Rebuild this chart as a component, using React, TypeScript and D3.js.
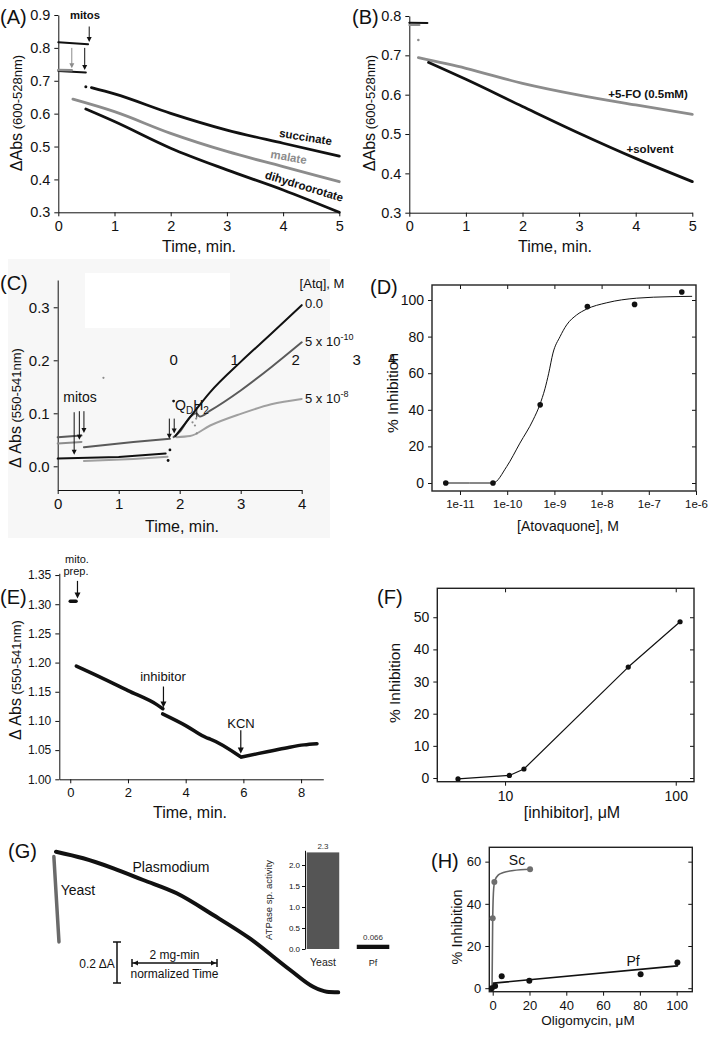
import React, { useEffect, useRef } from "react";
import * as d3 from "d3";

const FONT = "'Liberation Sans', Arial, Helvetica, sans-serif";
const NARROW = "'Liberation Sans Narrow', 'Arial Narrow', 'Liberation Sans', sans-serif";
const INK = "#111";
const GREY = "#8c8c8c";
const DARK_GREY = "#5a5a5a";

type Pt = [number, number];

// (A) ΔAbs 600-528nm vs time, three substrates
const succinatePre: Pt[] = [[0, 0.817], [0.53, 0.811]];
const succinateDot: Pt = [0.49, 0.682];
const succinateRun: Pt[] = [[0.59, 0.679], [1, 0.66], [2, 0.601], [3, 0.55], [4, 0.51], [5, 0.471]];
const malatePre: Pt[] = [[0, 0.733], [0.24, 0.732]];
const malateRun: Pt[] = [[0.26, 0.644], [1, 0.606], [2, 0.54], [3, 0.485], [4, 0.439], [5, 0.393]];
const dhoPre: Pt[] = [[0, 0.73], [0.49, 0.725]];
const dhoRun: Pt[] = [[0.49, 0.614], [1, 0.576], [2, 0.495], [3, 0.429], [4, 0.368], [5, 0.3]];
const aTicks = [0.3, 0.4, 0.5, 0.6, 0.7, 0.8, 0.9];

// (B) 5-FO vs solvent
const foPre: Pt[] = [[0, 0.777], [0.18, 0.777]];
const foDot: Pt = [0.16, 0.739];
const foRun: Pt[] = [[0.16, 0.694], [1, 0.667], [2, 0.629], [3, 0.599], [4, 0.574], [5, 0.55]];
const solvPre: Pt[] = [[0, 0.783], [0.32, 0.782]];
const solvRun: Pt[] = [[0.34, 0.682], [1, 0.639], [2, 0.57], [3, 0.502], [4, 0.438], [5, 0.379]];
const bTicks = [0.3, 0.4, 0.5, 0.6, 0.7, 0.8];
const time5 = [0, 1, 2, 3, 4, 5];

// (C) cyt c reduction with atovaquone
const c0Pre: Pt[] = [[0, 0.0145], [1, 0.0175], [1.77, 0.024]];
const c0Dots: Pt[] = [[1.81, 0.011], [1.84, 0.031], [1.9, 0.123]];
const c0Run: Pt[] = [[1.93, 0.057], [2.2, 0.097], [2.5, 0.14], [3, 0.197], [3.5, 0.25], [4, 0.304]];
const c10Pre: Pt[] = [[0, 0.055], [0.39, 0.058]];
const c10Mid: Pt[] = [[0.43, 0.036], [1.24, 0.046], [1.84, 0.052]];
const c10Run: Pt[] = [[1.9, 0.055], [2.0, 0.065], [2.17, 0.093], [2.27, 0.1], [2.33, 0.094], [2.5, 0.105], [3, 0.143], [3.5, 0.187], [4, 0.234]];
const c8Pre: Pt[] = [[0, 0.043], [0.39, 0.046]];
const c8Mid: Pt[] = [[0.43, 0.01], [1.24, 0.014], [1.8, 0.018]];
const c8Run: Pt[] = [[1.95, 0.055], [2.17, 0.057], [2.5, 0.077], [3, 0.099], [3.5, 0.117], [4, 0.127]];
const cStray: Pt[] = [[2.21, 0.083], [2.27, 0.09], [2.25, 0.077], [2.28, 0.062], [0.75, 0.167]];
const cTicks = [0, 0.1, 0.2, 0.3];
const time4 = [0, 1, 2, 3, 4];
const overlayDigits = ["0", "1", "2", "3"];

// (D) atovaquone dose response
const atqConc = [5e-12, 5e-11, 5e-10, 5e-9, 5e-8, 5e-7];
const atqInhib = [0, 0, 42.7, 96.4, 97.6, 104.4];
const atqFitLog = [-11.3, -10.3, -10.01, -9.73, -9.45, -9.31, -9.2, -9.12, -9.03, -8.88, -8.74, -8.53, -8.32, -7.89, -7.26, -6.55, -6.09];
const atqFitVal = [0, 0, 9, 21.8, 34.5, 42.7, 51.5, 60, 71, 80, 86.4, 91.8, 95, 98.5, 101, 101.8, 102];
const dXTicks = [1e-11, 1e-10, 1e-9, 1e-8, 1e-7, 1e-6];
const pctTicks = [0, 20, 40, 60, 80, 100];

// (E) inhibitor + KCN trace
const ePre: Pt[] = [[0, 1.305], [0.2, 1.305]];
const eRun1: Pt[] = [[0.21, 1.194], [1, 1.176], [2, 1.152], [3, 1.128], [3.21, 1.121]];
const eRun2: Pt[] = [[3.2, 1.112], [4, 1.092], [4.73, 1.071], [4.85, 1.069], [5.89, 1.039]];
const eRun3: Pt[] = [[5.93, 1.038], [6.5, 1.044], [7, 1.049], [7.6, 1.055], [8.1, 1.059], [8.55, 1.061]];
const eYTicks = [1.0, 1.05, 1.1, 1.15, 1.2, 1.25, 1.3, 1.35];
const eXTicks = [0, 2, 4, 6, 8];

// (F) inhibitor dose response
const inhConc = [5.3, 10.6, 12.9, 52.7, 106];
const inhVal = [-0.3, 0.8, 2.8, 34.5, 48.6];
const fYTicks = [0, 10, 20, 30, 40, 50];

// (G) ATPase traces (normalized time, ΔA)
const plasT = [0, 0.64, 1.35, 2.05, 2.84, 3.7, 4.56, 5.51, 6.05, 6.37, 6.64];
const plasA = [0, -0.032, -0.081, -0.138, -0.203, -0.309, -0.423, -0.577, -0.659, -0.683, -0.686];
const yeastT = [-0.05, 0.07];
const yeastA = [-0.024, -0.44];
const atpCats = ["Yeast", "Pf"];
const atpVals = [2.3, 0.066];
const atpTicks = [0, 0.5, 1, 1.5, 2];

// (H) oligomycin
const scX = [0, 0.9, 20.3];
const scY = [33.2, 50.4, 56.4];
const scFitX = [-0.36, 0, 0.54, 1.27, 3.1, 5.8, 11.2, 20.3];
const scFitY = [0, 33, 47.4, 51.3, 53.7, 54.8, 55.8, 56.4];
const pfX = [-0.5, 1.3, 4.9, 19.9, 80.4, 100.4];
const pfY = [0, 1.1, 5.7, 3.5, 6.6, 12.2];
const pfFitX = [0.4, 100.4];
const pfFitY = [2.4, 10.6];
const hXTicks = [0, 20, 40, 60, 80, 100];
const hYTicks = [0, 20, 40, 60];

type G = d3.Selection<SVGGElement, unknown, null, undefined>;
type Lin = d3.ScaleLinear<number, number> | d3.ScaleLogarithmic<number, number>;

function fontify(s: any, size: number, family = FONT) {
  s.attr("font-family", family).attr("font-size", size);
  s.selectAll("text").attr("fill", INK);
  s.selectAll("line,path").attr("stroke", INK);
}

function txt(g: G, x: number, y: number, s: string, o: any = {}) {
  const t = g.append("text")
    .attr("x", x).attr("y", y)
    .attr("font-family", o.family || FONT)
    .attr("font-size", o.size || 14)
    .attr("font-weight", o.weight || "normal")
    .attr("fill", o.fill || INK)
    .attr("text-anchor", o.anchor || "start")
    .text(s);
  if (o.rotate) t.attr("transform", `rotate(${o.rotate},${x},${y})`);
  return t;
}

function yLabel(g: G, x: number, y: number, big: string, small: string, bs = 16, ss = 13) {
  const t = g.append("text").attr("transform", `translate(${x},${y}) rotate(-90)`)
    .attr("text-anchor", "middle").attr("font-family", FONT).attr("fill", INK);
  t.append("tspan").attr("font-size", bs).text(big);
  if (small) t.append("tspan").attr("font-size", ss).text(" " + small);
}

function arrow(g: G, x: number, y1: number, y2: number, color = INK, w = 1, head = 5) {
  g.append("line").attr("x1", x).attr("x2", x).attr("y1", y1).attr("y2", y2 - head * 0.7)
    .attr("stroke", color).attr("stroke-width", w);
  g.append("path").attr("d", `M${x - head / 2},${y2 - head}L${x + head / 2},${y2 - head}L${x},${y2}Z`).attr("fill", color);
}

function trace(g: G, x: Lin, y: Lin, pts: Pt[], color: string, w: number, curve: any = d3.curveMonotoneX) {
  const ln = d3.line<Pt>().x((d) => x(d[0])).y((d) => y(d[1])).curve(curve);
  g.append("path").attr("d", ln(pts)).attr("fill", "none").attr("stroke", color)
    .attr("stroke-width", w).attr("stroke-linecap", "round").attr("stroke-linejoin", "round");
}

function dots(g: G, x: Lin, y: Lin, pts: Pt[], color: string, r: number) {
  g.selectAll(null).data(pts).enter().append("circle")
    .attr("cx", (d) => x(d[0])).attr("cy", (d) => y(d[1])).attr("r", r).attr("fill", color);
}

function openAxes(g: G, x: Lin, y: Lin, xt: number[], yt: number[], yFmt: string, fs: number, family = FONT, xfs = fs) {
  const [yb] = y.range();
  g.append("g").attr("transform", `translate(0,${yb})`)
    .call(d3.axisBottom(x as any).tickValues(xt).tickSize(4).tickSizeOuter(0).tickPadding(4).tickFormat(d3.format("d")) as any)
    .call((s: any) => fontify(s, xfs));
  const [xl] = x.range();
  g.append("g").attr("transform", `translate(${xl},0)`)
    .call(d3.axisLeft(y as any).tickValues(yt).tickSize(4).tickSizeOuter(0).tickPadding(4).tickFormat(d3.format(yFmt)) as any)
    .call((s: any) => fontify(s, fs, family));
}

function framedAxes(g: G, x: Lin, y: Lin, xt: number[], yt: number[], xFmt: any, fs: number, xfs: number, top: number[] | null) {
  const [x0, x1] = x.range();
  const [y0, y1] = y.range();
  g.append("g").attr("transform", `translate(0,${y0})`)
    .call(d3.axisBottom(x as any).tickValues(xt).tickSize(4).tickSizeOuter(0).tickPadding(5).tickFormat(xFmt) as any)
    .call((s: any) => { s.select(".domain").remove(); fontify(s, xfs); });
  g.append("g").attr("transform", `translate(${x0},0)`)
    .call(d3.axisLeft(y as any).tickValues(yt).tickSize(4).tickSizeOuter(0).tickPadding(4).tickFormat(d3.format("d")) as any)
    .call((s: any) => { s.select(".domain").remove(); fontify(s, fs); });
  g.append("g").attr("transform", `translate(${x1},0)`)
    .call(d3.axisLeft(y as any).tickValues(yt).tickSize(4).tickFormat(() => "") as any)
    .call((s: any) => { s.select(".domain").remove(); fontify(s, fs); });
  if (top) {
    g.append("g").attr("transform", `translate(0,${y1})`)
      .call(d3.axisBottom(x as any).tickValues(top).tickSize(4).tickFormat(() => "") as any)
      .call((s: any) => { s.select(".domain").remove(); fontify(s, fs); });
  }
  g.append("rect").attr("x", x0).attr("y", y1).attr("width", x1 - x0).attr("height", y0 - y1)
    .attr("fill", "none").attr("stroke", "#222").attr("stroke-width", 1.4);
}

function drawA(svg: any) {
  const g: G = svg.append("g");
  const x = d3.scaleLinear().domain([0, 5]).range([58.3, 339.3]);
  const y = d3.scaleLinear().domain([0.3, 0.9]).range([212.3, 15]);
  openAxes(g, x, y, time5, aTicks, ".1f", 14.5);
  trace(g, x, y, succinatePre, INK, 2);
  trace(g, x, y, dhoPre, INK, 2);
  trace(g, x, y, malatePre, GREY, 2.5);
  dots(g, x, y, [succinateDot], INK, 1.5);
  trace(g, x, y, succinateRun, INK, 2.8);
  trace(g, x, y, malateRun, GREY, 2.8);
  trace(g, x, y, dhoRun, INK, 2.8);
  arrow(g, x(0.55), y(0.865), y(0.818), INK, 1, 5);
  arrow(g, x(0.24), y(0.8), y(0.738), GREY, 1, 5);
  arrow(g, x(0.47), y(0.8), y(0.733), INK, 1, 5);
  txt(g, 85, 19, "mitos", { size: 11.3, weight: "bold", anchor: "middle" });
  txt(g, 305, 141, "succinate", { size: 11.5, weight: "bold", anchor: "middle", rotate: 9 });
  txt(g, 288, 161, "malate", { size: 11.5, weight: "bold", anchor: "middle", rotate: 10, fill: GREY });
  txt(g, 303, 190, "dihydroorotate", { size: 11.5, weight: "bold", anchor: "middle", rotate: 17 });
  txt(g, 199, 252, "Time, min.", { size: 16, anchor: "middle" });
  yLabel(g, 22, 113, "ΔAbs", "(600-528nm)");
  txt(g, 0, 24, "(A)", { size: 20 });
}

function drawB(svg: any) {
  const g: G = svg.append("g");
  const x = d3.scaleLinear().domain([0, 5]).range([409.3, 692.3]);
  const y = d3.scaleLinear().domain([0.3, 0.8]).range([212.7, 16]);
  openAxes(g, x, y, time5, bTicks, ".1f", 14.5);
  trace(g, x, y, solvPre, INK, 2);
  trace(g, x, y, foPre, GREY, 2);
  dots(g, x, y, [foDot], GREY, 1.3);
  trace(g, x, y, foRun, GREY, 2.8);
  trace(g, x, y, solvRun, INK, 2.8);
  txt(g, 648, 98, "+5-FO (0.5mM)", { size: 11.5, weight: "bold", anchor: "middle" });
  txt(g, 650, 153, "+solvent", { size: 11.5, weight: "bold", anchor: "middle" });
  txt(g, 555, 252, "Time, min.", { size: 16, anchor: "middle" });
  yLabel(g, 375, 113, "ΔAbs", "(600-528nm)");
  txt(g, 352, 24, "(B)", { size: 20 });
}

function drawC(svg: any) {
  const g: G = svg.append("g");
  g.append("rect").attr("x", 8).attr("y", 259).attr("width", 322).attr("height", 279).attr("fill", "#f7f7f7");
  g.append("rect").attr("x", 85).attr("y", 273).attr("width", 145).attr("height", 55).attr("fill", "#fff");
  const x = d3.scaleLinear().domain([0, 4]).range([57.7, 301.7]);
  const y = d3.scaleLinear().domain([-0.0447, 0.3515]).range([490, 280]);
  openAxes(g, x, y, time4, cTicks, ".1f", 15);
  const lw = 2;
  trace(g, x, y, c10Pre, DARK_GREY, lw, d3.curveLinear);
  trace(g, x, y, c8Pre, GREY, lw, d3.curveLinear);
  trace(g, x, y, c10Mid, DARK_GREY, lw, d3.curveLinear);
  trace(g, x, y, c8Mid, "#a0a0a0", lw, d3.curveLinear);
  trace(g, x, y, c0Pre, INK, lw, d3.curveLinear);
  trace(g, x, y, c8Run, "#a0a0a0", lw);
  trace(g, x, y, c10Run, DARK_GREY, lw);
  trace(g, x, y, c0Run, INK, lw);
  dots(g, x, y, c0Dots, INK, 1.4);
  dots(g, x, y, cStray, GREY, 1.1);
  arrow(g, x(0.27), y(0.102), y(0.022), INK, 1, 5);
  arrow(g, x(0.355), y(0.104), y(0.05), INK, 1, 5);
  arrow(g, x(0.43), y(0.104), y(0.063), INK, 1, 5);
  arrow(g, x(1.83), y(0.09), y(0.052), INK, 1, 5);
  arrow(g, x(1.91), y(0.09), y(0.062), INK, 1, 5);
  g.append("line").attr("x1", x(2.28)).attr("x2", x(2.28)).attr("y1", y(0.112)).attr("y2", y(0.092)).attr("stroke", INK);
  txt(g, 80, 402, "mitos", { size: 14, anchor: "middle" });
  const q = txt(g, 175, 410, "Q", { size: 14 });
  q.append("tspan").attr("font-size", 10).attr("dy", 4).text("D");
  q.append("tspan").attr("dy", -4).text("H");
  q.append("tspan").attr("font-size", 10).attr("dy", 4).text("2");
  txt(g, 322, 288, "[Atq], M", { size: 13, anchor: "middle" });
  txt(g, 305, 308, "0.0", { size: 13 });
  const t1 = txt(g, 305, 346, "5 x 10", { size: 13 });
  t1.append("tspan").attr("font-size", 9).attr("dy", -6).text("-10");
  const t2 = txt(g, 305, 403, "5 x 10", { size: 13 });
  t2.append("tspan").attr("font-size", 9).attr("dy", -6).text("-8");
  overlayDigits.forEach((d, i) => txt(g, x(1.9 + i), 365, d, { size: 15, anchor: "middle" }));
  txt(g, 182, 532, "Time, min.", { size: 16, anchor: "middle" });
  yLabel(g, 21, 408, "Δ Abs", "(550-541nm)");
  txt(g, 0, 290, "(C)", { size: 20 });
}

function drawD(svg: any) {
  const g: G = svg.append("g");
  const x = d3.scaleLog().domain([Math.pow(10, -11.593), 1e-6]).range([432, 696]);
  const y = d3.scaleLinear().domain([-4.37, 108.2]).range([491, 285]);
  framedAxes(g, x, y, dXTicks, pctTicks, (d: number) => `1e${Math.round(Math.log10(d))}`, 14, 11.5, dXTicks.slice(0, 5));
  const fit: Pt[] = atqFitLog.map((l, i) => [Math.pow(10, l), atqFitVal[i]]);
  trace(g, x, y, fit, INK, 1, d3.curveMonotoneX);
  dots(g, x, y, atqConc.map((c, i) => [c, atqInhib[i]] as Pt), INK, 2.8);
  txt(g, 568, 531, "[Atovaquone], M", { size: 14, anchor: "middle" });
  txt(g, 398, 393, "% Inhibition", { size: 15.5, anchor: "middle", rotate: -90 });
  txt(g, 388, 364, "4", { size: 14 });
  txt(g, 370, 294, "(D)", { size: 20 });
}

function drawE(svg: any) {
  const g: G = svg.append("g");
  const x = d3.scaleLinear().domain([-0.38, 8.77]).range([59.3, 323.3]);
  const y = d3.scaleLinear().domain([1.0, 1.353]).range([779.3, 573.3]);
  openAxes(g, x, y, eXTicks, eYTicks, ".2f", 12, NARROW, 13);
  trace(g, x, y, ePre, INK, 3.5, d3.curveLinear);
  trace(g, x, y, eRun1, INK, 3.5);
  trace(g, x, y, eRun2, INK, 3.5);
  trace(g, x, y, eRun3, INK, 3.5);
  arrow(g, x(0.25), y(1.34), y(1.31), INK, 1.2, 6);
  arrow(g, x(3.23), y(1.159), y(1.123), INK, 1.2, 6);
  arrow(g, x(5.91), y(1.084), y(1.044), INK, 1.2, 6);
  txt(g, 77, 563, "mito.", { size: 11, anchor: "middle", family: NARROW });
  txt(g, 76, 575, "prep.", { size: 11, anchor: "middle", family: NARROW });
  txt(g, 163, 681, "inhibitor", { size: 13, anchor: "middle", family: NARROW });
  txt(g, 241, 728, "KCN", { size: 13, anchor: "middle", family: NARROW });
  txt(g, 190, 818, "Time, min.", { size: 16, anchor: "middle" });
  yLabel(g, 21, 680, "Δ Abs", "(550-541nm)");
  txt(g, 0, 604, "(E)", { size: 20 });
}

function drawF(svg: any) {
  const g: G = svg.append("g");
  const x = d3.scaleLog().domain([Math.pow(10, 0.603), Math.pow(10, 2.107)]).range([437.3, 694]);
  const y = d3.scaleLinear().domain([-1.15, 59]).range([781.7, 588.3]);
  framedAxes(g, x, y, [10, 100], fYTicks, d3.format("d"), 14, 14, [10, 100]);
  const pts: Pt[] = inhConc.map((c, i) => [c, inhVal[i]]);
  trace(g, x, y, pts, INK, 1.2, d3.curveLinear);
  dots(g, x, y, pts, INK, 2.6);
  txt(g, 572, 818, "[inhibitor], μM", { size: 16, anchor: "middle" });
  txt(g, 400, 683, "% Inhibition", { size: 15.5, anchor: "middle", rotate: -90 });
  txt(g, 377, 604, "(F)", { size: 20 });
}

function drawG(svg: any) {
  const g: G = svg.append("g");
  const x = d3.scaleLinear().domain([0, 1]).range([56, 98.5]);
  const y = d3.scaleLinear().domain([0, -1]).range([851.7, 1056.7]);
  const plas: Pt[] = plasT.map((t, i) => [t, plasA[i]]);
  trace(g, x, y, plas, INK, 4);
  const yeast: Pt[] = yeastT.map((t, i) => [t, yeastA[i]]);
  trace(g, x, y, yeast, "#6a6a6a", 3.5, d3.curveLinear);
  txt(g, 171, 872, "Plasmodium", { size: 14, anchor: "middle" });
  txt(g, 78, 895, "Yeast", { size: 14, anchor: "middle" });
  // scale bars
  const vx = 117, vy = 942, vlen = y(-0.2) - y(0);
  g.append("line").attr("x1", vx).attr("x2", vx).attr("y1", vy).attr("y2", vy + vlen).attr("stroke", INK).attr("stroke-width", 1.5);
  [vy, vy + vlen].forEach((yy) => g.append("line").attr("x1", vx - 4).attr("x2", vx + 4).attr("y1", yy).attr("y2", yy).attr("stroke", INK).attr("stroke-width", 1.5));
  txt(g, 97, 968, "0.2 ΔA", { size: 12, anchor: "middle" });
  const hx = 132, hy = 963, hlen = x(2) - x(0);
  g.append("line").attr("x1", hx).attr("x2", hx + hlen).attr("y1", hy).attr("y2", hy).attr("stroke", INK).attr("stroke-width", 1.5);
  [hx, hx + hlen].forEach((xx) => g.append("line").attr("x1", xx).attr("x2", xx).attr("y1", hy - 4).attr("y2", hy + 4).attr("stroke", INK).attr("stroke-width", 1.5));
  g.append("path").attr("d", `M${hx + 1},${hy}l5,-2.5v5Z M${hx + hlen - 1},${hy}l-5,-2.5v5Z`).attr("fill", INK);
  txt(g, hx + hlen / 2, 959, "2 mg-min", { size: 12, anchor: "middle" });
  txt(g, hx + hlen / 2, 978, "normalized Time", { size: 12, anchor: "middle" });
  txt(g, 8, 858, "(G)", { size: 20 });

  // inset bar chart
  const bx = d3.scaleBand().domain(atpCats).range([306.7, 389.3]).paddingInner(0.35);
  const by = d3.scaleLinear().domain([0, 2.35]).range([949, 850.3]);
  g.append("g").attr("transform", "translate(305,0)")
    .call(d3.axisLeft(by).tickValues(atpTicks).tickSize(3).tickSizeOuter(0).tickPadding(2).tickFormat(d3.format(".1f")) as any)
    .call((s: any) => fontify(s, 8));
  g.selectAll(null).data(atpCats).enter().append("rect")
    .attr("x", (d) => bx(d) as number).attr("width", bx.bandwidth())
    .attr("y", (d, i) => by(atpVals[i]) - (i === 1 ? 1.5 : 0))
    .attr("height", (d, i) => by(0) - by(atpVals[i]) + (i === 1 ? 1.5 : 0))
    .attr("fill", (d, i) => (i === 0 ? "#555" : INK));
  g.selectAll(null).data(atpCats).enter().append("text")
    .attr("x", (d) => (bx(d) as number) + bx.bandwidth() / 2)
    .attr("y", (d, i) => by(atpVals[i]) - (i === 0 ? 3 : 6))
    .attr("text-anchor", "middle").attr("font-family", FONT).attr("font-size", 8).attr("fill", "#333")
    .text((d, i) => String(atpVals[i]));
  g.selectAll(null).data(atpCats).enter().append("text")
    .attr("x", (d) => (bx(d) as number) + bx.bandwidth() / 2).attr("y", 966)
    .attr("text-anchor", "middle").attr("font-family", FONT).attr("font-size", (d, i) => (i === 0 ? 10.5 : 9)).attr("fill", "#222")
    .text((d) => d);
  txt(g, 272, 900, "ATPase sp. activity", { size: 9.5, anchor: "middle", rotate: -90, fill: "#222" });
}

function drawH(svg: any) {
  const g: G = svg.append("g");
  const x = d3.scaleLinear().domain([-1.85, 108.5]).range([489.3, 692.3]);
  const y = d3.scaleLinear().domain([-1.66, 66.8]).range([991.7, 847.3]);
  framedAxes(g, x, y, hXTicks, hYTicks, d3.format("d"), 13, 13, null);
  trace(g, x, y, scFitX.map((v, i) => [v, scFitY[i]] as Pt), "#666", 1.6);
  trace(g, x, y, pfFitX.map((v, i) => [v, pfFitY[i]] as Pt), INK, 1.6, d3.curveLinear);
  dots(g, x, y, scX.map((v, i) => [v, scY[i]] as Pt), "#6e6e6e", 3);
  dots(g, x, y, pfX.map((v, i) => [v, pfY[i]] as Pt), INK, 3);
  txt(g, 517, 865, "Sc", { size: 14, anchor: "middle" });
  txt(g, 633, 966, "Pf", { size: 14, anchor: "middle" });
  txt(g, 588, 1025, "Oligomycin,  μM", { size: 13.5, anchor: "middle" });
  txt(g, 462, 927, "% Inhibition", { size: 14.5, anchor: "middle", rotate: -90 });
  txt(g, 431, 868, "(H)", { size: 20 });
}

export default function App() {
  const ref = useRef<SVGSVGElement>(null);
  useEffect(() => {
    const node = ref.current;
    if (!node) return;
    const svg = d3.select(node);
    svg.selectAll("*").remove();
    drawA(svg);
    drawB(svg);
    drawC(svg);
    drawD(svg);
    drawE(svg);
    drawF(svg);
    drawG(svg);
    drawH(svg);
  }, []);
  return (
    <svg ref={ref} width={715} height={1050} viewBox="0 0 715 1050"
      style={{ position: "absolute", left: 0, top: 0, background: "#fff" }} />
  );
}
